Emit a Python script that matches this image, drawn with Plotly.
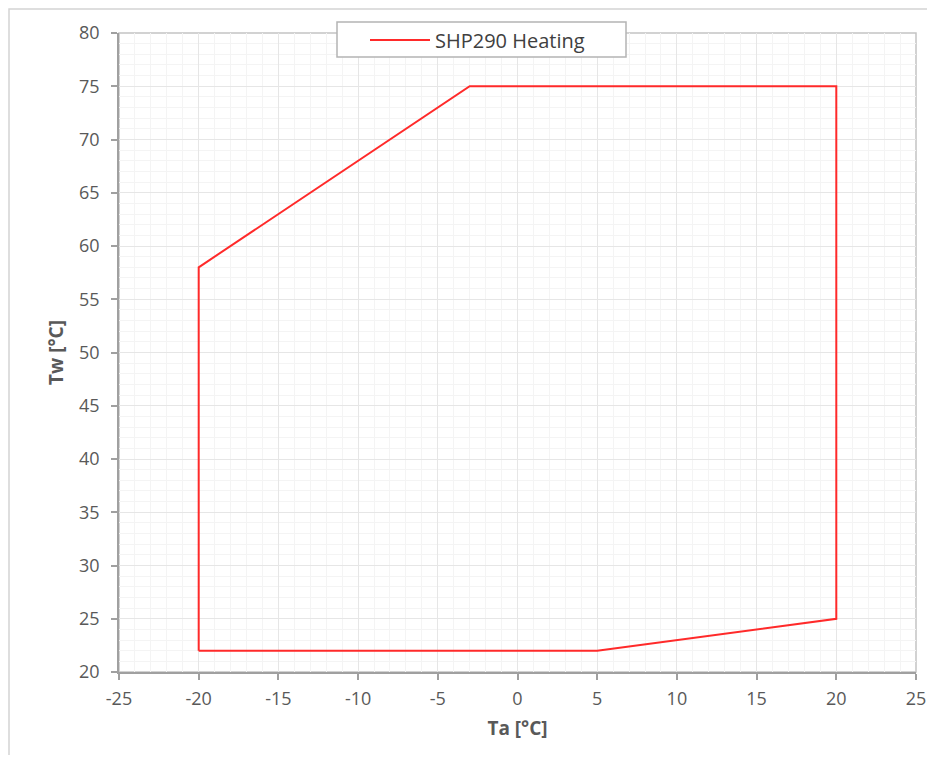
import plotly.graph_objects as go

# Operating envelope (Ta, Tw)
ta = [-20, -20, -3, 20, 20, 5, -20]
tw = [22, 58, 75, 75, 25, 22, 22]
series_name = "SHP290 Heating"

x_ticks = [-25, -20, -15, -10, -5, 0, 5, 10, 15, 20, 25]
x_tick_labels = ["-25", "-20", "-15", "-10", "-5", "0", "5", "10", "15", "20", "25"]
y_ticks = [20, 25, 30, 35, 40, 45, 50, 55, 60, 65, 70, 75, 80]
y_tick_labels = [str(v) for v in y_ticks]

OFF = 8  # page body margin
W, H = 935 - 2 * OFF, 763 - 2 * OFF
L, T = 119 - OFF, 33 - OFF
R, B = W - (916 - OFF), H - (672 - OFF)
pw, ph = W - L - R, H - T - B

def sx(px):  # screen px -> paper x
    return (px - OFF - L) / pw

def sy(py):  # screen px -> paper y
    return (H - B - (py - OFF)) / ph

fig = go.Figure()
fig.add_trace(go.Scatter(
    x=ta, y=tw, mode="lines", name=series_name,
    line=dict(color="#ff2a2a", width=2),
    showlegend=True,
))

axis_common = dict(
    showgrid=True, gridcolor="#e6e6e6", gridwidth=1,
    showline=True, linecolor="#a0a0a0", linewidth=1.5,
    ticks="outside", ticklen=6, tickcolor="#a0a0a0", tickwidth=1.5,
    tickfont=dict(family="Open Sans", size=18, color="#595959"),
    zeroline=False, automargin=False,
    minor=dict(dtick=1, showgrid=True, gridcolor="#f4f4f4", gridwidth=1, ticks=""),
)

fig.update_layout(
    width=W, height=H,
    margin=dict(l=L, r=R, t=T, b=B, autoexpand=False),
    paper_bgcolor="white", plot_bgcolor="white",
    font=dict(family="Open Sans", color="#595959"),
    xaxis=dict(range=[-25, 25], tickvals=x_ticks, ticktext=x_tick_labels,
               ticklabelstandoff=4,
               title=dict(text="<b>Ta [°C]</b>", font=dict(size=19, color="#595959"), standoff=12),
               **axis_common),
    yaxis=dict(range=[20, 80], tickvals=y_ticks, ticktext=y_tick_labels,
               ticklabelstandoff=8,
               title=dict(text="<b>Tw [°C]</b>", font=dict(size=19, color="#595959"), standoff=10),
               **axis_common),
    legend=dict(
        x=sx(365), y=sy(40), xanchor="left", yanchor="middle",
        bgcolor="rgba(0,0,0,0)", borderwidth=0,
        font=dict(family="Open Sans", size=20, color="#404040"),
        itemwidth=60,
    ),
    shapes=[
        # plot area top/right edge
        dict(type="rect", xref="paper", yref="paper", x0=0, x1=1, y0=0, y1=1,
             line=dict(color="#c4c4c4", width=1.5), layer="below"),
        # legend box
        dict(type="rect", xref="paper", yref="paper",
             x0=sx(337), x1=sx(626), y0=sy(57), y1=sy(22),
             fillcolor="white", line=dict(color="#b4b4b4", width=1.5), layer="above"),
        # outer chart border
        dict(type="rect", xref="paper", yref="paper",
             x0=sx(9), x1=sx(990), y0=sy(800), y1=sy(9),
             line=dict(color="#d4d4d4", width=1.5)),
    ],
)

fig.write_html("out.html")
